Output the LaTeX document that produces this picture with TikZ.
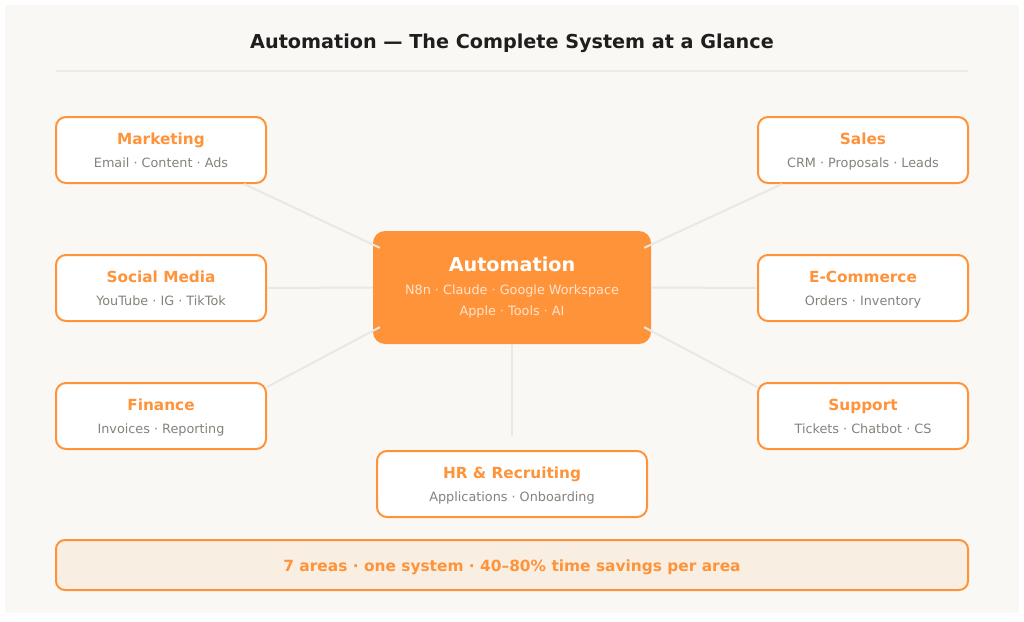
\documentclass[tikz,border=0pt]{standalone}
\usepackage{fontspec}
\setmainfont{DejaVu Sans}
\definecolor{panelbg}{HTML}{FAF8F4}
\definecolor{accent}{HTML}{FF9339}
\definecolor{rulegray}{HTML}{EAE8E3}
\definecolor{subgray}{HTML}{86827C}
\definecolor{inkdark}{HTML}{1E1E1C}
\definecolor{bandbg}{HTML}{F9EEE2}
\definecolor{hubsub}{HTML}{FFE3CC}
\newcommand{\lineA}[3]{\rule[-#2pt]{0pt}{\dimexpr#1pt+#2pt\relax}#3}
\newcommand{\tiletext}[2]{\lineA{16}{4}{\fontsize{15.3}{15.3}\selectfont\bfseries\color{accent}#1}\\\lineA{17.5}{4}{\fontsize{12.8}{12.8}\selectfont\color{subgray}#2}}
\tikzset{
    RA1/.style ={rectangle,rounded corners=10pt,minimum width = 210pt, minimum height =66pt, draw=accent, line width=2pt, fill=white, align=center, inner sep=0pt},
    RA2/.style ={rectangle,rounded corners=12pt,minimum width = 278pt, minimum height =113pt, fill=accent, align=center, inner sep=0pt},
    RA3/.style ={rectangle,rounded corners=9pt,minimum width = 912pt, minimum height =50pt, draw=accent, line width=2pt, fill=bandbg, align=center, inner sep=0pt},
    LK/.style ={draw=rulegray, line width=2pt}
}
\begin{document}
\begin{tikzpicture}[x=1pt,y=-1pt]
    \useasboundingbox (0,0) rectangle (1024,621);
    \fill[white] (0,0) rectangle (1024,621);
    \fill[panelbg] (5,5) rectangle (1019,613);
    \node (title) at (512,43) {\fontsize{19.2}{19.2}\selectfont\bfseries\color{inkdark}Automation — The Complete System at a Glance};
    \coordinate (ruleL) at (56,71);
    \coordinate (ruleR) at (968,71);
    \draw[LK,draw=rulegray!80!panelbg] (ruleL) -- (ruleR);
    \node[RA2] (hub) at (512,287.5) {\lineA{16}{4}{\fontsize{19.2}{19.2}\selectfont\bfseries\color{white}Automation}\\\lineA{18}{4}{\fontsize{12.8}{12.8}\selectfont\color{hubsub}N8n · Claude · Google Workspace}\\\lineA{16}{5}{\fontsize{12.8}{12.8}\selectfont\color{hubsub}Apple · Tools · AI}};
    \node[RA1] (marketing) at (161,150) {\tiletext{Marketing}{Email · Content · Ads}};
    \node[RA1] (social) at (161,288) {\tiletext{Social Media}{YouTube · IG · TikTok}};
    \node[RA1] (finance) at (161,416) {\tiletext{Finance}{Invoices · Reporting}};
    \node[RA1] (sales) at (863,150) {\tiletext{Sales}{CRM · Proposals · Leads}};
    \node[RA1] (ecommerce) at (863,288) {\tiletext{E-Commerce}{Orders · Inventory}};
    \node[RA1] (support) at (863,416) {\tiletext{Support}{Tickets · Chatbot · CS}};
    \node[RA1,minimum width=270pt] (hr) at (512,484) {\tiletext{HR \& Recruiting}{Applications · Onboarding}};
    \node[RA3] (band) at (512,565) {\lineA{17}{3}{\fontsize{15.4}{15.4}\selectfont\bfseries\color{accent}7 areas · one system · 40–80\% time savings per area}};
    \draw[LK] ([xshift=-23pt]marketing.south east) -- ([shift={(7pt,-17pt)}]hub.north west);
    \draw[LK] (social.east) -- (hub.west);
    \draw[LK] ([yshift=63pt]finance.south east) -- ([shift={(7pt,17pt)}]hub.south west);
    \draw[LK] ([xshift=25pt]sales.south west) -- ([shift={(-7pt,-17pt)}]hub.north east);
    \draw[LK] (ecommerce.west) -- (hub.east);
    \draw[LK] ([yshift=63pt]support.south west) -- ([shift={(-7pt,17pt)}]hub.south east);
    \draw[LK] (hub.south) -- ([yshift=14pt]hr.north);
\end{tikzpicture}
\end{document}
